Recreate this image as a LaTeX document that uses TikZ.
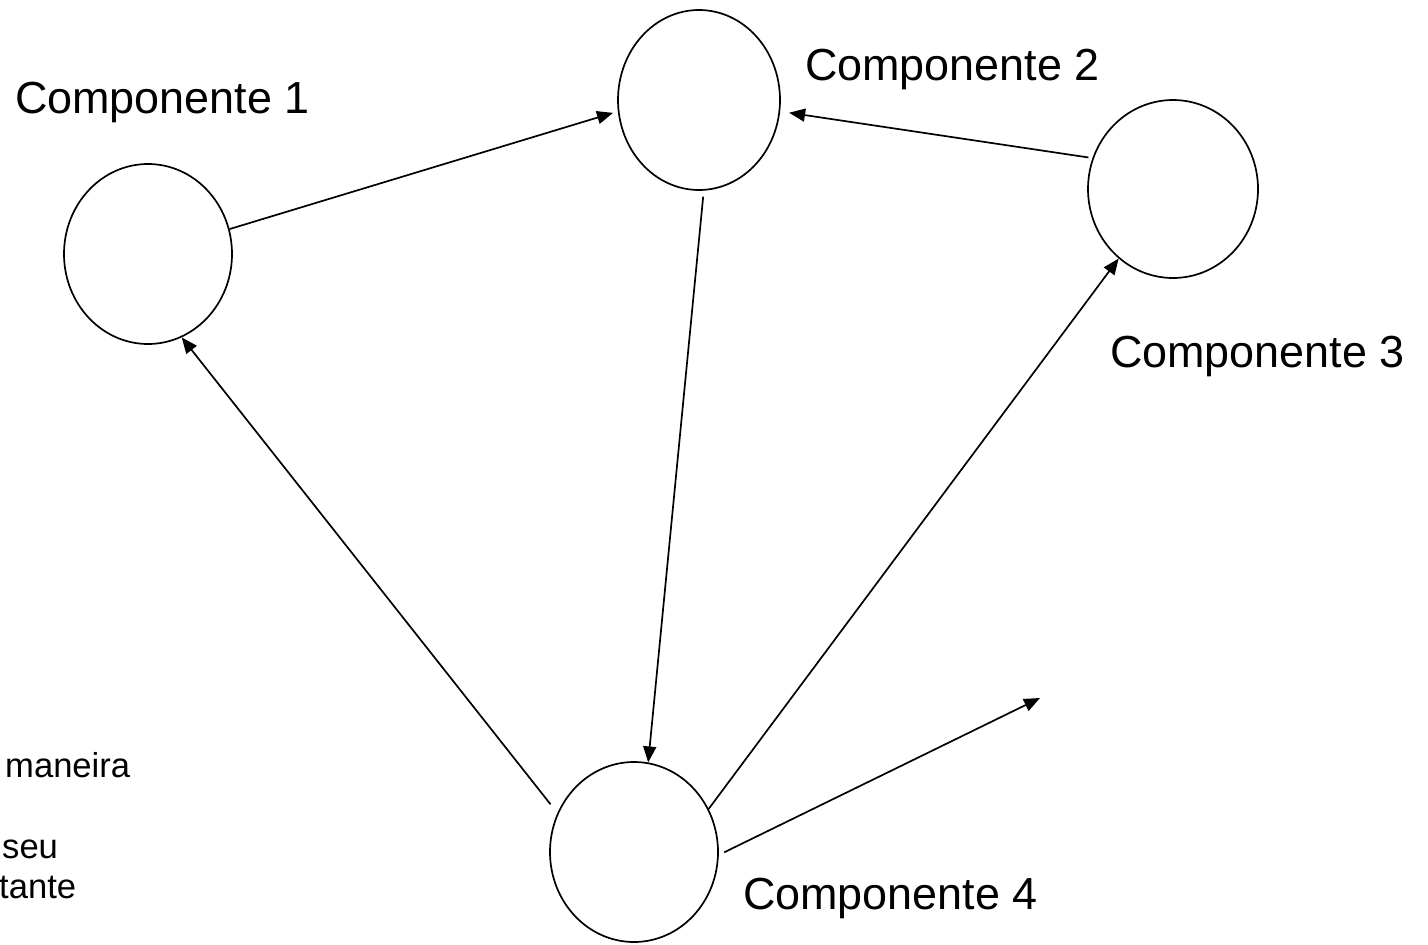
\documentclass[tikz,border=0pt]{standalone}
\usepackage{fontspec}
\setmainfont{Liberation Sans}
\usetikzlibrary{arrows.meta,shapes.geometric}

\tikzset{
  comp/.style={draw, ellipse, line width=1.7pt, inner sep=0pt},
  link/.style={line width=1.7pt, -{Triangle[length=16pt,width=13pt]}},
  biglabel/.style={anchor=base west, inner sep=0pt, font=\fontsize{44.9}{52}\selectfont},
  smalltext/.style={anchor=base west, inner sep=0pt, font=\fontsize{34.6}{40}\selectfont},
}

\begin{document}
\begin{tikzpicture}[x=1pt, y=-1pt]
  \useasboundingbox (0,0) rectangle (1428,945);

  % the four components
  \node[comp, minimum width=168pt, minimum height=180pt] (c1) at (148,254) {};
  \node[comp, minimum width=162pt, minimum height=180pt] (c2) at (699,100) {};
  \node[comp, minimum width=170pt, minimum height=178pt] (c3) at (1173,189) {};
  \node[comp, minimum width=168pt, minimum height=180pt] (c4) at (634,852) {};

  % component names
  \node[biglabel] (l1) at (15,113) {Componente 1};
  \node[biglabel] (l2) at (805,80) {Componente 2};
  \node[biglabel] (l3) at (1110,367) {Componente 3};
  \node[biglabel] (l4) at (743,909) {Componente 4};

  % text fragments on the left edge
  \node[smalltext] (t1) at (5,777) {maneira};
  \node[smalltext] (t2) at (2,858) {seu};
  \node[smalltext] (t3) at (-1,898) {tante};

  % open end of the outgoing link
  \coordinate (out) at (1040,698);

  % links between components
  \draw[link, shorten >=5pt] (c1.17) -- (c2.188.6);
  \draw[link, shorten <=4pt, shorten >=9pt] (c3.159) -- (c2.-8);
  \draw[link, shorten <=6pt] (c2.-87.6) -- (c4.81.7);
  \draw[link, shorten <=11pt] (c4.153) -- (c1.-68);
  \draw[link] (c4.30) -- (c3.-128);
  \draw[link, shorten <=6pt] (c4.-2.5) -- (out);
\end{tikzpicture}
\end{document}
